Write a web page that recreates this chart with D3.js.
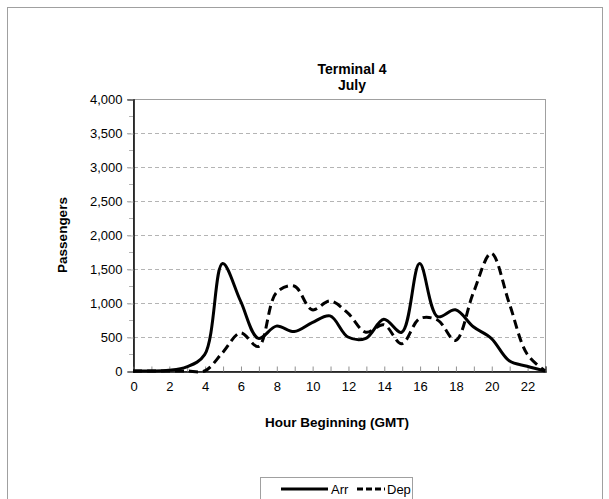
<!DOCTYPE html>
<html><head><meta charset="utf-8">
<script src="https://cdn.jsdelivr.net/npm/d3@7"></script>
<style>body{margin:0;background:#fff}svg{display:block}text{font-family:"Liberation Sans",Arial,sans-serif}</style>
</head><body>
<script>
const hours = d3.range(0, 24);
const arr = [0,0,10,60,240,1580,1030,480,660,580,710,810,500,480,760,570,1580,800,900,650,480,150,70,0];
const dep = [0,0,0,0,0,270,560,360,1150,1250,900,1030,850,570,680,400,770,750,450,1150,1730,1000,250,0];
const xTickLabels = d3.range(0, 23, 2);
const yTicks = d3.range(0, 4001, 500);
const seriesNames = ["Arr", "Dep"];

const W = 609, H = 499;
const m = {l:133, r:545, t:99, b:371};
const svg = d3.select("body").append("svg").attr("width", W).attr("height", H);
svg.append("rect").attr("x",7.5).attr("y",7.5).attr("width",595).attr("height",500).attr("fill","#fff").attr("stroke","#a0a0a0");

const x = d3.scaleLinear().domain([0,23]).range([m.l, m.r]);
const y = d3.scaleLinear().domain([0,4000]).range([m.b, m.t]);

// grid
svg.append("g").selectAll("line").data(yTicks.filter(v=>v>0)).join("line")
  .attr("x1", m.l-6).attr("x2", m.r).attr("y1", d=>y(d)+0.5).attr("y2", d=>y(d)+0.5)
  .attr("stroke","#b4b4b4").attr("stroke-dasharray","4,3");
// minor ticks
svg.append("g").selectAll("line").data(d3.range(250,4000,500)).join("line")
  .attr("x1", m.l-4).attr("x2", m.l).attr("y1", d=>y(d)+0.5).attr("y2", d=>y(d)+0.5)
  .attr("stroke","#b4b4b4");
// plot border
svg.append("rect").attr("x",m.l+0.5).attr("y",m.t+0.5).attr("width",m.r-m.l).attr("height",m.b-m.t)
  .attr("fill","none").attr("stroke","#a0a0a0");

// axes
const yAxis = d3.axisLeft(y).tickValues(yTicks).tickSize(6).tickFormat(d3.format(","));
const gy = svg.append("g").attr("transform",`translate(${m.l+0.5},0.5)`).call(yAxis);
gy.select(".domain").attr("stroke","#000").attr("stroke-width",1.5);
gy.selectAll(".tick line").attr("stroke","#b4b4b4");
gy.selectAll("text").attr("font-size",13).attr("fill","#000").attr("x",-11);

const xAxis = d3.axisBottom(x).tickValues(hours).tickSize(-5).tickFormat(d => d%2===0 && d<23 ? d : "");
const gx = svg.append("g").attr("transform",`translate(0.5,${m.b+0.5})`).call(xAxis);
gx.select(".domain").attr("stroke","#000").attr("stroke-width",1.5);
gx.selectAll(".tick line").attr("stroke","#909090");
gx.selectAll("text").attr("font-size",13).attr("fill","#000").attr("y",10);

// lines
const line = d3.line().x((d,i)=>x(hours[i])).y(d=>y(d)).curve(d3.curveCatmullRom.alpha(0.5));
svg.append("path").datum(arr).attr("d",line).attr("fill","none").attr("stroke","#000").attr("stroke-width",3);
svg.append("path").datum(dep).attr("d",line).attr("fill","none").attr("stroke","#000").attr("stroke-width",3).attr("stroke-dasharray","9,5");

// titles
const t = svg.append("text").attr("text-anchor","middle").attr("font-weight","bold").attr("font-size",14);
t.append("tspan").attr("x",352).attr("y",74).text("Terminal 4");
t.append("tspan").attr("x",352).attr("y",90).text("July");
svg.append("text").attr("text-anchor","middle").attr("font-weight","bold").attr("font-size",13.5)
  .attr("x",337).attr("y",427).text("Hour Beginning (GMT)");
svg.append("text").attr("text-anchor","middle").attr("font-weight","bold").attr("font-size",13.5)
  .attr("transform","translate(67,235) rotate(-90)").text("Passengers");

// legend
const lg = svg.append("g");
lg.append("rect").attr("x",260.5).attr("y",477.5).attr("width",152).attr("height",22).attr("fill","#fff").attr("stroke","#a0a0a0");
lg.append("line").attr("x1",281).attr("x2",328).attr("y1",489).attr("y2",489).attr("stroke","#000").attr("stroke-width",3);
lg.append("text").attr("x",331).attr("y",493.5).attr("font-size",13).text(seriesNames[0]);
lg.append("line").attr("x1",357).attr("x2",385).attr("y1",489).attr("y2",489).attr("stroke","#000").attr("stroke-width",3).attr("stroke-dasharray","6,3");
lg.append("text").attr("x",387).attr("y",493.5).attr("font-size",13).text(seriesNames[1]);
</script>
</body></html>
